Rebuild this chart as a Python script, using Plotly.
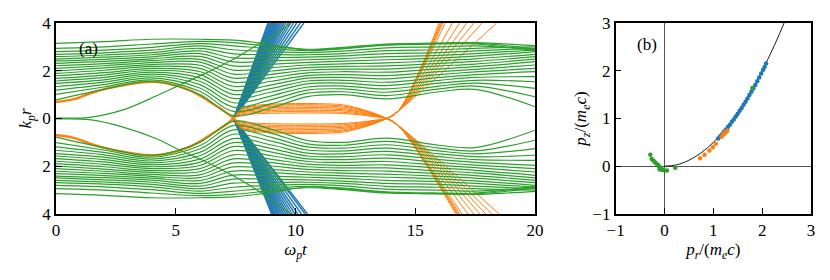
import plotly.graph_objects as go

# ---------------- panel (a): trajectories k_p r vs w_p t ----------------
GREEN = "#2ca02c"
BLUE = "#1f77b4"
ORANGE = "#ff7f0e"

# knot times for the background (green) electrons, upper half; lower half is the mirror
green_t = [0, 2, 4, 6, 7.4, 9, 10.5, 12, 13.8, 16, 17.5, 20]
green_rows = [
    [0.78, 1.22, 1.55, 1.00, 0.12, 0.45, 0.92, 1.00, 0.82, 1.12, 1.22, 0.49],
    [1.01, 1.32, 1.62, 1.14, 0.30, 0.62, 1.06, 1.12, 0.96, 1.24, 1.36, 0.91],
    [1.19, 1.42, 1.70, 1.28, 0.48, 0.79, 1.19, 1.24, 1.10, 1.36, 1.48, 1.26],
    [1.33, 1.52, 1.78, 1.42, 0.66, 0.95, 1.32, 1.36, 1.24, 1.48, 1.60, 1.54],
    [1.47, 1.62, 1.86, 1.56, 0.84, 1.11, 1.45, 1.48, 1.38, 1.60, 1.72, 1.75],
    [1.57, 1.72, 1.94, 1.70, 1.01, 1.26, 1.57, 1.60, 1.52, 1.72, 1.84, 1.96],
    [1.68, 1.82, 2.02, 1.84, 1.18, 1.41, 1.69, 1.72, 1.66, 1.84, 1.95, 2.10],
    [1.79, 1.92, 2.10, 1.97, 1.35, 1.56, 1.80, 1.84, 1.80, 1.96, 2.06, 2.24],
    [1.89, 2.02, 2.18, 2.10, 1.52, 1.71, 1.91, 1.96, 1.94, 2.08, 2.17, 2.38],
    [1.99, 2.12, 2.26, 2.23, 1.69, 1.85, 2.02, 2.07, 2.07, 2.20, 2.28, 2.49],
    [2.10, 2.21, 2.34, 2.36, 1.86, 1.99, 2.13, 2.18, 2.20, 2.31, 2.39, 2.59],
    [2.21, 2.30, 2.42, 2.48, 2.03, 2.13, 2.24, 2.29, 2.33, 2.42, 2.50, 2.69],
    [2.31, 2.39, 2.50, 2.60, 2.20, 2.27, 2.35, 2.40, 2.46, 2.53, 2.61, 2.80],
    [2.41, 2.48, 2.58, 2.72, 2.37, 2.41, 2.46, 2.51, 2.59, 2.64, 2.72, 2.87],
    [2.49, 2.57, 2.67, 2.83, 2.54, 2.55, 2.57, 2.62, 2.72, 2.76, 2.83, 2.94],
    [2.59, 2.66, 2.76, 2.94, 2.71, 2.68, 2.67, 2.72, 2.84, 2.88, 2.94, 3.00],
    [2.69, 2.75, 2.86, 3.04, 2.88, 2.80, 2.76, 2.82, 2.96, 3.00, 3.04, 2.88],
    [2.80, 2.86, 2.98, 3.14, 3.04, 2.92, 2.84, 2.92, 3.07, 3.12, 3.12, 2.84],
    [2.94, 3.00, 3.12, 3.23, 3.18, 3.02, 2.90, 2.98, 3.12, 3.15, 3.16, 2.92],
    [3.15, 3.22, 3.32, 3.32, 3.28, 3.10, 2.87, 2.95, 3.10, 3.16, 3.18, 3.05],
]

# the two near-axis electrons that get thrown out
escape_t = [0, 1.4, 2.8, 4.2, 5.2, 6.3, 7.4, 8.4, 9.3, 9.8]
escape_up = [0.02, 0.05, 0.36, 0.95, 1.42, 1.92, 2.48, 3.08, 3.62, 4.0]
escape_dn = [-0.02, -0.05, -0.36, -0.85, -1.34, -1.83, -2.40, -3.00, -3.65, -4.0]

# bubble envelope (orange, upper half)
env_t = [0, 0.7, 1.4, 2.1, 2.8, 3.8, 4.6, 5.6, 6.5, 7.0, 7.42]
env_r = [0.69, 0.80, 1.04, 1.25, 1.39, 1.53, 1.48, 1.18, 0.65, 0.33, 0.0]

# blue (escaping) electrons: time at which they leave the box
blue_cross = (7.42, 0.0)
blue_end_up = [8.85, 8.90, 8.95, 9.00, 9.05, 9.10, 9.15, 9.20, 9.26, 9.32, 9.38, 9.45,
               9.52, 9.60, 9.70, 9.80, 9.92, 10.05, 10.20, 10.35]
blue_end_dn = [9.00, 9.05, 9.10, 9.15, 9.20, 9.26, 9.32, 9.38, 9.45, 9.52, 9.60, 9.68,
               9.77, 9.87, 9.98, 10.10, 10.25, 10.40, 10.50]

# orange (trapped) electrons between the two crossings, upper lobe
lobe_t = [7.42, 7.7, 8.2, 9.0, 10.0, 11.0, 12.0, 12.8, 13.4, 13.82]
lobe_rows = [
    [0, 0.39, 0.53, 0.60, 0.63, 0.62, 0.57, 0.38, 0.18, 0],
    [0, 0.36, 0.49, 0.56, 0.58, 0.57, 0.52, 0.35, 0.16, 0],
    [0, 0.33, 0.45, 0.51, 0.53, 0.52, 0.48, 0.32, 0.15, 0],
    [0, 0.29, 0.39, 0.45, 0.47, 0.46, 0.42, 0.28, 0.13, 0],
    [0, 0.25, 0.34, 0.39, 0.41, 0.40, 0.37, 0.25, 0.11, 0],
    [0, 0.22, 0.29, 0.34, 0.35, 0.34, 0.32, 0.21, 0.10, 0],
    [0, 0.18, 0.24, 0.28, 0.29, 0.28, 0.26, 0.17, 0.08, 0],
    [0, 0.14, 0.19, 0.22, 0.23, 0.23, 0.21, 0.14, 0.06, 0],
]

# orange electrons after the second crossing
fan_start = (13.82, 0.0)
fan_mid_up = (14.3, 0.32)
fan_mid_dn = (14.3, -0.30)
fan_end_up = [16.0, 16.05, 16.1, 16.15, 16.25, 16.55, 16.85, 17.15, 17.45, 17.8, 18.4]
fan_end_dn = [16.7, 16.75, 16.8, 16.85, 16.95, 17.2, 17.45, 17.7, 17.95, 18.2, 18.5]

# ---------------- panel (b): momenta ----------------
curve_pr = [0, 0.25, 0.5, 0.75, 1.0, 1.25, 1.5, 1.75, 2.0, 2.25, 2.5]
curve_pz = [0, 0.03, 0.125, 0.28, 0.5, 0.78, 1.125, 1.53, 2.0, 2.53, 3.125]

blue_pr = [1.10, 1.14, 1.18, 1.22, 1.26, 1.30, 1.34, 1.38, 1.42, 1.46, 1.50, 1.54, 1.58,
           1.62, 1.66, 1.70, 1.74, 1.78, 1.82, 1.86, 1.90, 1.94, 1.98, 2.02, 2.05, 2.08]
blue_pz = [0.58, 0.63, 0.67, 0.72, 0.77, 0.82, 0.87, 0.93, 0.98, 1.04, 1.10, 1.16, 1.22,
           1.29, 1.35, 1.42, 1.49, 1.56, 1.63, 1.70, 1.78, 1.86, 1.94, 2.02, 2.08, 2.15]
orange_pr = [0.73, 0.82, 0.92, 0.99, 1.05, 1.17, 1.20, 1.22, 1.25, 1.27, 1.29]
orange_pz = [0.17, 0.24, 0.33, 0.40, 0.47, 0.62, 0.66, 0.68, 0.71, 0.73, 0.75]
green_pr = [-0.29, -0.26, -0.22, -0.19, -0.16, -0.13, -0.11, -0.09, -0.10, -0.06, -0.04,
            -0.02, 0.05, 0.22, 1.80]
green_pz = [0.24, 0.15, 0.11, 0.08, 0.05, 0.02, 0.00, -0.03, -0.07, -0.06, -0.08,
            -0.08, -0.09, -0.03, 1.64]

SERIF = "Liberation Serif"


def joined(segments):
    """glue (xs, ys) pieces into one trace, separated by None"""
    xs, ys = [], []
    for sx, sy in segments:
        xs += list(sx) + [None]
        ys += list(sy) + [None]
    return xs, ys


def lines(fig, segments, color, width, shape="spline"):
    xs, ys = joined(segments)
    fig.add_trace(go.Scatter(x=xs, y=ys, mode="lines", showlegend=False,
                             line=dict(color=color, width=width, shape=shape),
                             connectgaps=False, hoverinfo="skip",
                             xaxis="x", yaxis="y"))


fig = go.Figure()

# blue first, then orange, green on top
blue_segs = [([blue_cross[0], te], [blue_cross[1], 4.0]) for te in blue_end_up]
blue_segs += [([blue_cross[0], te], [blue_cross[1], -4.0]) for te in blue_end_dn]
lines(fig, blue_segs, BLUE, 1.4, shape="linear")

orange_segs = [(lobe_t, row) for row in lobe_rows]
orange_segs += [(lobe_t, [-v for v in row]) for row in lobe_rows]
orange_segs += [([fan_start[0], fan_mid_up[0], te], [fan_start[1], fan_mid_up[1], 4.0]) for te in fan_end_up]
orange_segs += [([fan_start[0], fan_mid_dn[0], te], [fan_start[1], fan_mid_dn[1], -4.0]) for te in fan_end_dn]
lines(fig, orange_segs, ORANGE, 1.0)
lines(fig, [(env_t, env_r), (env_t, [-v for v in env_r])], ORANGE, 2.4)

green_segs = [(green_t, row) for row in green_rows]
green_segs += [(green_t, [-v for v in row]) for row in green_rows]
green_segs += [(escape_t, escape_up), (escape_t, escape_dn)]
lines(fig, green_segs, GREEN, 1.2)

# panel (b)
fig.add_trace(go.Scatter(x=curve_pr, y=curve_pz, mode="lines", showlegend=False,
                         line=dict(color="black", width=0.9, shape="spline"),
                         xaxis="x2", yaxis="y2"))
for px_, pz_, c in [(blue_pr, blue_pz, BLUE), (orange_pr, orange_pz, ORANGE),
                    (green_pr, green_pz, GREEN)]:
    fig.add_trace(go.Scatter(x=px_, y=pz_, mode="markers", showlegend=False,
                             marker=dict(color=c, size=4.5, line=dict(width=0)),
                             xaxis="x2", yaxis="y2"))

axis_style = dict(showline=True, mirror=True, linecolor="black", linewidth=1.5,
                  ticks="inside", ticklen=6, tickwidth=1.2, tickcolor="black",
                  showgrid=False, automargin=False,
                  tickfont=dict(family=SERIF, size=17, color="black"))

# the page body has an 8px margin, so the figure is a bit smaller than the window
fig.update_layout(
    width=822, height=272,
    margin=dict(l=48, r=19, t=15, b=66),
    plot_bgcolor="white", paper_bgcolor="white",
    font=dict(family=SERIF, size=16, color="black"),
    xaxis=dict(domain=[0, 0.6344], range=[0, 20], tickvals=[0, 5, 10, 15, 20],
               zeroline=False, anchor="y",
               title=dict(text="<i>ω<sub>p</sub>t</i>", standoff=2,
                          font=dict(family=SERIF, size=17)), **axis_style),
    yaxis=dict(domain=[0, 1], range=[-4, 4], tickvals=[-4, -2, 0, 2, 4],
               ticktext=["4", "2", "0", "2", "4"], zeroline=False, anchor="x",
               title=dict(text="<i>k<sub>p</sub>r</i>", standoff=6,
                          font=dict(family=SERIF, size=17)), **axis_style),
    xaxis2=dict(domain=[0.7412, 1], range=[-1, 3], tickvals=[-1, 0, 1, 2, 3],
                zeroline=True, zerolinecolor="#555555", zerolinewidth=0.9, anchor="y2",
                title=dict(text="<i>p<sub>r</sub></i>/(<i>m<sub>e</sub>c</i>)", standoff=2,
                           font=dict(family=SERIF, size=17)),
                **axis_style),
    yaxis2=dict(domain=[0, 1], range=[-1, 3], tickvals=[-1, 0, 1, 2, 3],
                zeroline=True, zerolinecolor="#555555", zerolinewidth=0.9, anchor="x2",
                title=dict(text="<i>p<sub>z</sub></i>/(<i>m<sub>e</sub>c</i>)", standoff=1,
                           font=dict(family=SERIF, size=17)),
                **axis_style),
    annotations=[
        dict(text="(a)", xref="x domain", yref="y domain", x=0.044, y=0.927,
             showarrow=False, font=dict(family=SERIF, size=17)),
        dict(text="(b)", xref="x2 domain", yref="y2 domain", x=0.099, y=0.948,
             showarrow=False, font=dict(family=SERIF, size=17)),
    ],
)

fig.write_html("out.html")
